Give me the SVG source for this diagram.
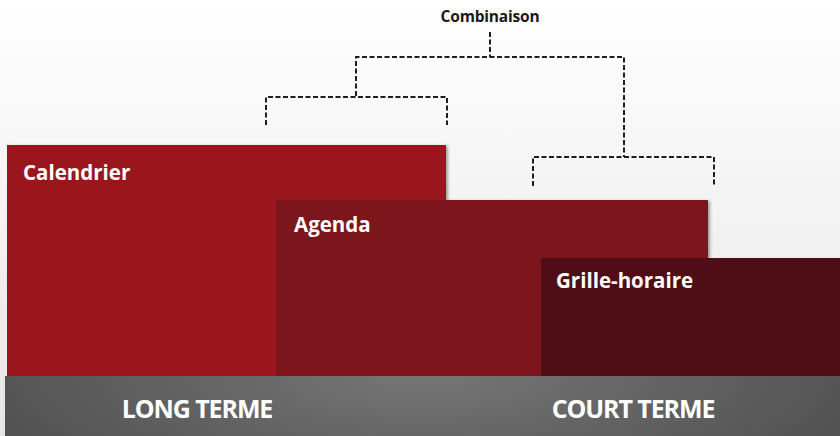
<svg xmlns="http://www.w3.org/2000/svg" width="840" height="436" viewBox="0 0 840 436">
  <defs>
    <linearGradient id="bg" x1="0" y1="0" x2="0" y2="1">
      <stop offset="0" stop-color="#ffffff"/>
      <stop offset="1" stop-color="#e6e6e6"/>
    </linearGradient>
    <radialGradient id="bar" cx="0.5" cy="0" r="0.75" gradientTransform="matrix(1 0 0 4 0 0)">
      <stop offset="0" stop-color="#767676"/>
      <stop offset="1" stop-color="#454545"/>
    </radialGradient>
    <filter id="shadow" x="-5%" y="-5%" width="115%" height="115%">
      <feDropShadow dx="2" dy="1" stdDeviation="1.5" flood-color="#000" flood-opacity="0.35"/>
    </filter>
    <style>
      .lbl { font-family: "Open Sans", "Liberation Sans", sans-serif; font-weight: bold; fill: #ffffff; }
      .block { font-size: 20.5px; }
      .term { font-size: 25px; letter-spacing: -1.1px; text-anchor: middle; }
      .dash { fill: none; stroke: #1e1e1e; stroke-width: 2; stroke-dasharray: 5 2.5; }
      .top { font-family: "Open Sans", "Liberation Sans", sans-serif; font-weight: bold; font-size: 15.5px; letter-spacing: -0.2px; fill: #1a1a1a; text-anchor: middle; }
    </style>
  </defs>

  <rect x="0" y="0" width="840" height="436" fill="url(#bg)"/>

  <!-- horizon bands, longest first -->
  <g id="calendrier">
    <rect x="7" y="145" width="439" height="232" fill="#9b131b" filter="url(#shadow)"/>
    <text class="lbl block" x="23" y="180">Calendrier</text>
  </g>
  <g id="agenda">
    <rect x="276" y="200" width="432" height="177" fill="#7c141d" filter="url(#shadow)"/>
    <text class="lbl block" x="294" y="232">Agenda</text>
  </g>
  <g id="grille-horaire">
    <rect x="541" y="258" width="299" height="119" fill="#4f0e15"/>
    <text class="lbl block" x="556" y="288">Grille-horaire</text>
  </g>

  <!-- time-scale bar -->
  <g id="echelle">
    <rect x="5" y="376" width="835" height="60" fill="url(#bar)"/>
    <text class="lbl term" x="197" y="418">LONG TERME</text>
    <text class="lbl term" x="633" y="418">COURT TERME</text>
  </g>

  <!-- combination brackets -->
  <g id="connecteurs">
    <path class="dash" d="M490 32 V57"/>
    <path class="dash" d="M356 96 V57 H624 V157"/>
    <path class="dash" d="M266 125 V97 H447 V125"/>
    <path class="dash" d="M533 186 V157 H714 V186"/>
  </g>

  <g id="combinaison">
    <text class="top" x="490" y="22">Combinaison</text>
  </g>
</svg>
